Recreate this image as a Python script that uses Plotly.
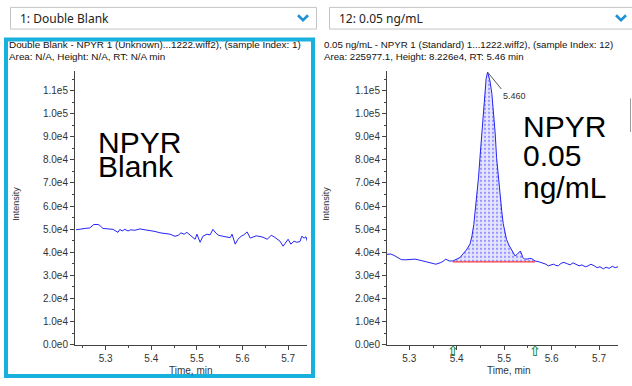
import plotly.graph_objects as go

W, H = 632, 386

# ---------------- data ----------------
blank_time = [5.235, 5.244, 5.255, 5.265, 5.274, 5.283, 5.287, 5.294, 5.305, 5.316,
              5.327, 5.331, 5.336, 5.342, 5.349, 5.355, 5.364, 5.375, 5.386, 5.397,
              5.408, 5.419, 5.430, 5.441, 5.452, 5.459, 5.465, 5.472, 5.478, 5.485,
              5.491, 5.496, 5.500, 5.507, 5.513, 5.522, 5.529, 5.535, 5.542, 5.548,
              5.557, 5.566, 5.573, 5.577, 5.584, 5.590, 5.597, 5.603, 5.610, 5.617,
              5.623, 5.630, 5.636, 5.645, 5.654, 5.663, 5.669, 5.676, 5.682, 5.689,
              5.695, 5.700, 5.706, 5.713, 5.719, 5.726, 5.730, 5.735, 5.739, 5.742]
blank_intensity = [49700, 50100, 50300, 50500, 52000, 52000, 51600, 50300, 50100, 49900,
                   48600, 49900, 49200, 49900, 49200, 49700, 49500, 50100, 49700, 49500,
                   49000, 48400, 48200, 47800, 46900, 47300, 48400, 47800, 48600, 47300,
                   46300, 45600, 47800, 44300, 46900, 47800, 47500, 49900, 48200, 47300,
                   46900, 46500, 46300, 47800, 43500, 45600, 46900, 47500, 48800, 46100,
                   46500, 47100, 46900, 46500, 45600, 47300, 46700, 45600, 44800, 42600,
                   44300, 45600, 43500, 44800, 44300, 44600, 46900, 46100, 46700, 44800]

std_time = [5.253, 5.261, 5.268, 5.276, 5.283, 5.291, 5.302, 5.312, 5.323, 5.333,
            5.344, 5.356, 5.365, 5.371, 5.377, 5.384, 5.392, 5.401, 5.407, 5.413,
            5.420, 5.428, 5.432, 5.436, 5.439, 5.442, 5.446, 5.449, 5.453, 5.456,
            5.460, 5.462, 5.465, 5.467, 5.470, 5.474, 5.477, 5.481, 5.484, 5.488,
            5.491, 5.495, 5.498, 5.502, 5.505, 5.510, 5.516, 5.520, 5.523, 5.527,
            5.530, 5.534, 5.537, 5.539, 5.543, 5.548, 5.553, 5.558, 5.562, 5.565,
            5.574, 5.582, 5.588, 5.593, 5.599, 5.604, 5.609, 5.614, 5.620, 5.626,
            5.633, 5.639, 5.645, 5.652, 5.658, 5.664, 5.671, 5.677, 5.683, 5.690,
            5.696, 5.702, 5.709, 5.715, 5.721, 5.728, 5.734, 5.740]
std_intensity = [39100, 39200, 38600, 37500, 36800, 36700, 36900, 37000, 36500, 36000,
                 35600, 34800, 35400, 36000, 37000, 36200, 36200, 36900, 37700, 39200,
                 40900, 43500, 46900, 52000, 57600, 64000, 72500, 81000, 91700, 102300,
                 110900, 115100, 118000, 116800, 114300, 108700, 102300, 91700, 81000, 71600,
                 64000, 57600, 52400, 48200, 45500, 43100, 41200, 39700, 38400, 39000,
                 39800, 40500, 39200, 37700, 37100, 37000, 37300, 37200, 36700, 36200,
                 35800, 35300, 34800, 34100, 34500, 34800, 34300, 34100, 35200, 35600,
                 35000, 34500, 35400, 34800, 34100, 34500, 33700, 34100, 34800, 34100,
                 33300, 33700, 32800, 33500, 33000, 33900, 33300, 33700]

peak_start = 5.392
peak_end = 5.565
peak_baseline = 35800
peak_rt_label = "5.460"

y_tick_vals = [0, 10000, 20000, 30000, 40000, 50000, 60000, 70000, 80000, 90000, 100000, 110000]
y_tick_text = ["0.0e0", "1.0e4", "2.0e4", "3.0e4", "4.0e4", "5.0e4", "6.0e4", "7.0e4",
               "8.0e4", "9.0e4", "1.0e5", "1.1e5"]
x_tick_vals = [5.3, 5.4, 5.5, 5.6, 5.7]
x_tick_text = ["5.3", "5.4", "5.5", "5.6", "5.7"]

left_header = ["Double Blank - NPYR 1 (Unknown)...1222.wiff2), (sample Index: 1)",
               "Area: N/A, Height: N/A, RT: N/A min"]
right_header = ["0.05 ng/mL - NPYR 1 (Standard) 1...1222.wiff2), (sample Index: 12)",
                "Area: 225977.1, Height: 8.226e4, RT: 5.46 min"]
left_big = ["NPYR", "Blank"]
right_big = ["NPYR", "0.05", "ng/mL"]
left_dropdown = "1: Double Blank"
right_dropdown = "12: 0.05 ng/mL"

# ---------------- helpers ----------------
def X(px):
    return px / W

def Y(py):
    return 1 - py / H

FONT = "Liberation Sans, Arial, sans-serif"
UI_FONT = "Noto Sans, Open Sans, sans-serif"
LINE_BLUE = "#2323f5"
AXIS_COL = "#444444"
TEXT_COL = "#333333"

fig = go.Figure()

# Left panel trace
fig.add_trace(go.Scatter(x=blank_time, y=blank_intensity, mode="lines",
                         line=dict(color=LINE_BLUE, width=1), xaxis="x", yaxis="y",
                         showlegend=False, hoverinfo="skip"))

# Right panel: integrated peak area
peak_x = [t for t in std_time if peak_start <= t <= peak_end]
peak_y = [v for t, v in zip(std_time, std_intensity) if peak_start <= t <= peak_end]
fig.add_trace(go.Scatter(x=[peak_start, peak_end], y=[peak_baseline, peak_baseline],
                         mode="lines", line=dict(width=0, color="rgba(0,0,0,0)"),
                         xaxis="x2", yaxis="y2", showlegend=False, hoverinfo="skip"))
fig.add_trace(go.Scatter(x=peak_x, y=peak_y, mode="lines", fill="tonexty",
                         fillcolor="#e2e2ff",
                         fillpattern=dict(shape=".", fgcolor="#4a4aff", bgcolor="#e4e4ff",
                                          size=4, solidity=0.25),
                         line=dict(width=0, color="rgba(0,0,0,0)"),
                         xaxis="x2", yaxis="y2", showlegend=False, hoverinfo="skip"))
fig.add_trace(go.Scatter(x=std_time, y=std_intensity, mode="lines",
                         line=dict(color=LINE_BLUE, width=1), xaxis="x2", yaxis="y2",
                         showlegend=False, hoverinfo="skip"))
fig.add_trace(go.Scatter(x=[peak_start, peak_end], y=[peak_baseline, peak_baseline],
                         mode="lines", line=dict(color="#ff3b3b", width=1.2),
                         xaxis="x2", yaxis="y2", showlegend=False, hoverinfo="skip"))

apex_i = max(range(len(std_intensity)), key=lambda i: std_intensity[i])
apex_t = std_time[apex_i]
apex_v = std_intensity[apex_i]

y_top = 72
y_bot = 350
y_max = (y_bot - y_top) * 426.4

axis_common = dict(showgrid=False, zeroline=False, showline=True, linecolor=AXIS_COL,
                   linewidth=1, ticks="outside", ticklen=4, tickcolor=AXIS_COL,
                   tickfont=dict(family=FONT, size=10, color=TEXT_COL))

xaxis_common = dict(axis_common, tickvals=x_tick_vals, ticktext=x_tick_text,
                    minor=dict(ticks="outside", ticklen=2, tick0=5.25, dtick=0.1,
                               tickcolor=AXIS_COL))
yaxis_common = dict(axis_common, tickvals=y_tick_vals, ticktext=y_tick_text,
                    range=[0, y_max],
                    domain=[Y(y_bot), Y(y_top)],
                    minor=dict(ticks="outside", ticklen=2, tick0=5000, dtick=10000,
                               tickcolor=AXIS_COL))

fig.update_layout(
    width=W, height=H, margin=dict(l=0, r=0, t=0, b=0),
    paper_bgcolor="white", plot_bgcolor="white",
    xaxis=dict(xaxis_common, domain=[X(75), X(307)], range=[5.2327, 5.7414], anchor="y"),
    yaxis=dict(yaxis_common, anchor="x"),
    xaxis2=dict(xaxis_common, domain=[X(387), X(618)], range=[5.253, 5.740], anchor="y2"),
    yaxis2=dict(yaxis_common, anchor="x2"),
    showlegend=False,
)

shapes = []
# blue selection frame around left panel
shapes.append(dict(type="rect", xref="paper", yref="paper",
                   x0=X(6), x1=X(313), y0=Y(382), y1=Y(40),
                   line=dict(color="#18b0dc", width=4), fillcolor="rgba(0,0,0,0)", layer="above"))
# dropdown boxes
shapes.append(dict(type="rect", xref="paper", yref="paper",
                   x0=X(10.5), x1=X(316.5), y0=Y(29.5), y1=Y(7.5),
                   line=dict(color="#c4c4c4", width=1), fillcolor="white", layer="below"))
shapes.append(dict(type="rect", xref="paper", yref="paper",
                   x0=X(329.5), x1=X(640), y0=Y(29.5), y1=Y(7.5),
                   line=dict(color="#c4c4c4", width=1), fillcolor="white", layer="below"))
# chevrons
for cx in (303, 621):
    shapes.append(dict(type="path", xref="paper", yref="paper",
                       path=f"M {X(cx-5)},{Y(15.5)} L {X(cx)},{Y(20.5)} L {X(cx+5)},{Y(15.5)}",
                       line=dict(color="#1e90d6", width=2.6)))
# small UI line at far right
shapes.append(dict(type="line", xref="paper", yref="paper",
                   x0=X(630.5), x1=X(630.5), y0=Y(100), y1=Y(134),
                   line=dict(color="#9a9a9a", width=1)))
# peak label leader line
shapes.append(dict(type="line", xref="x2", yref="y2",
                   x0=apex_t, y0=apex_v, x1=apex_t + 0.029, y1=apex_v - 7300,
                   line=dict(color="#555555", width=1)))

annotations = []
def txt(text, px, py, size, family=FONT, color=TEXT_COL, xanchor="left", yanchor="middle", angle=0):
    annotations.append(dict(text=text, x=X(px), y=Y(py), xref="paper", yref="paper",
                            showarrow=False, xanchor=xanchor, yanchor=yanchor,
                            textangle=angle,
                            font=dict(family=family, size=size, color=color)))

txt(left_dropdown, 18, 19, 12, family=UI_FONT, color="#222222")
txt(right_dropdown, 337, 19, 12, family=UI_FONT, color="#222222")

txt(left_header[0], 7, 45.5, 9.9, color="#111111")
txt(left_header[1], 7, 57, 9.9, color="#111111")
txt(right_header[0], 322, 45.5, 9.7, color="#111111")
txt(right_header[1], 322, 57, 9.7, color="#111111")

txt("Intensity", 16, 207, 9, angle=-90, xanchor="center")
txt("Intensity", 326, 207, 9, angle=-90, xanchor="center")
txt("Time, min", 190.5, 376, 10, xanchor="center")
txt("Time, min", 509, 376, 10, xanchor="center")

for line, cy in zip(left_big, [145, 169]):
    txt(line, 96, cy, 30, color="black")
for line, cy in zip(right_big, [128, 158, 190]):
    txt(line, 521, cy, 30, color="black")

annotations.append(dict(text=peak_rt_label, x=apex_t + 0.029, y=apex_v - 7300,
                        xref="x2", yref="y2", showarrow=False, xanchor="left",
                        yanchor="top", xshift=0, yshift=0,
                        font=dict(family=FONT, size=9, color=TEXT_COL)))

# peak start / end markers (green up arrows just under the axis)
for t in (peak_start, peak_end):
    annotations.append(dict(text="<b>⇧</b>", x=t, y=0, xref="x2", yref="y2",
                            showarrow=False, xanchor="center", yanchor="top",
                            yshift=4, font=dict(family="DejaVu Sans", size=14,
                                                color="#2a8a4c")))

fig.update_layout(shapes=shapes, annotations=annotations)

fig.write_html("out.html",
               config={"displayModeBar": False, "staticPlot": True},
               post_script="document.body.style.margin='0';document.body.style.padding='0';"
                           "document.body.style.overflow='hidden';")
